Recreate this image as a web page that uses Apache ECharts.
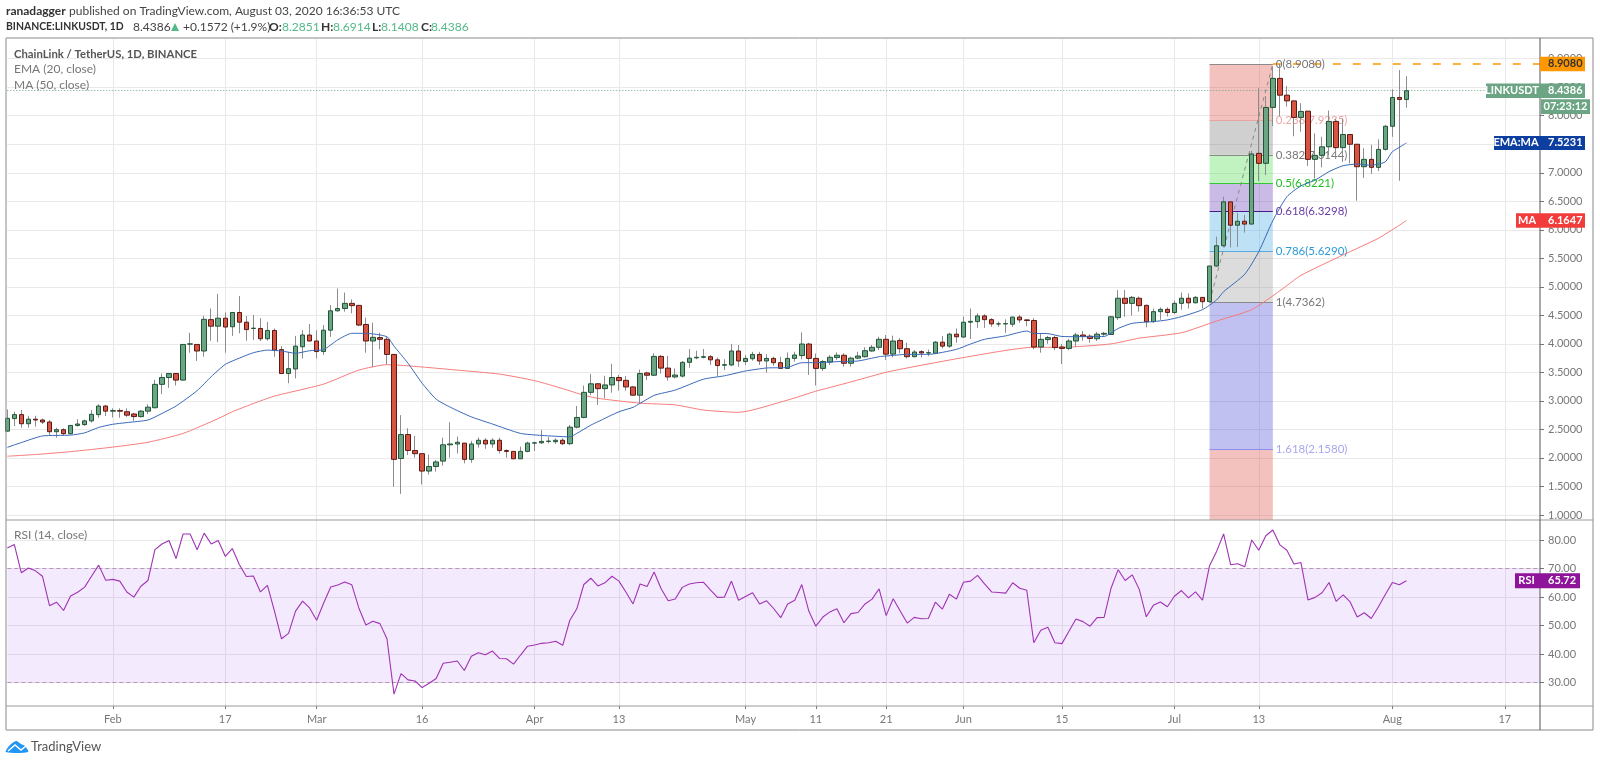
<!DOCTYPE html>
<html><head><meta charset="utf-8">
<style>html,body{margin:0;padding:0;background:#fff}#c{width:1600px;height:763px}</style>
<script src="https://cdn.jsdelivr.net/npm/echarts@6/dist/echarts.min.js"></script>
</head><body><div id="c"></div>
<script>
const opens=[2.47,2.69,2.76,2.60,2.68,2.665,2.63,2.46,2.495,2.425,
2.57,2.585,2.65,2.76,2.91,2.82,2.83,2.81,2.77,2.725,
2.82,2.88,3.29,3.41,3.48,3.365,3.995,3.99,3.875,4.425,
4.31,4.45,4.30,4.55,4.38,4.27,4.27,4.09,4.235,3.90,
3.48,3.56,3.95,4.155,4.05,3.865,4.24,4.58,4.62,4.71,
4.675,4.34,4.05,4.11,4.08,3.815,1.99,2.41,2.13,2.075,
1.77,1.85,1.945,2.23,2.245,2.26,1.975,2.245,2.31,2.245,
2.31,2.13,2.115,1.985,2.115,2.26,2.265,2.29,2.285,2.31,
2.25,2.54,2.71,3.15,3.30,3.215,3.28,3.41,3.36,3.245,
3.10,3.49,3.45,3.78,3.575,3.42,3.435,3.676,3.755,3.765,
3.775,3.72,3.625,3.63,3.875,3.69,3.74,3.815,3.70,3.745,
3.67,3.57,3.745,3.795,3.997,3.745,3.57,3.68,3.76,3.80,
3.66,3.75,3.775,3.875,3.94,4.08,3.82,4.06,3.915,3.775,
3.863,3.84,3.835,4.03,3.96,4.17,4.12,4.38,4.39,4.49,
4.425,4.35,4.35,4.345,4.47,4.42,4.41,3.945,4.075,4.11,
3.945,3.92,4.05,4.155,4.135,4.09,4.17,4.165,4.46,4.80,
4.71,4.80,4.675,4.39,4.565,4.605,4.55,4.71,4.80,4.72,
4.815,4.74,5.365,5.72,6.49,6.08,6.15,6.10,7.34,7.165,
8.145,8.655,8.36,8.26,7.97,8.08,7.235,7.305,7.455,7.90,
7.44,7.67,7.50,7.106,7.235,7.095,7.41,7.815,8.32,8.2851];
const closes=[2.695,2.76,2.60,2.68,2.665,2.63,2.46,2.495,2.425,2.57,
2.595,2.65,2.765,2.91,2.82,2.83,2.82,2.75,2.725,2.82,
2.89,3.29,3.41,3.48,3.365,3.99,4.0,3.875,4.43,4.31,
4.45,4.295,4.55,4.38,4.25,4.275,4.09,4.235,3.89,3.48,
3.565,3.96,4.155,4.05,3.865,4.24,4.58,4.62,4.71,4.67,
4.33,4.05,4.115,4.08,3.815,1.975,2.41,2.13,2.075,1.77,
1.85,1.93,2.23,2.245,2.275,1.975,2.245,2.31,2.245,2.31,
2.13,2.115,1.985,2.115,2.26,2.265,2.29,2.295,2.31,2.25,
2.54,2.71,3.15,3.30,3.215,3.28,3.41,3.355,3.245,3.10,
3.48,3.45,3.78,3.575,3.42,3.454,3.676,3.75,3.765,3.775,
3.72,3.62,3.635,3.875,3.70,3.745,3.815,3.70,3.745,3.67,
3.57,3.745,3.805,3.997,3.745,3.57,3.69,3.765,3.80,3.66,
3.75,3.787,3.88,3.94,4.08,3.82,4.05,3.915,3.775,3.857,
3.84,3.845,4.03,3.96,4.17,4.125,4.38,4.395,4.49,4.425,
4.35,4.35,4.355,4.47,4.42,4.41,3.945,4.08,4.11,3.935,
3.92,4.05,4.155,4.13,4.095,4.17,4.185,4.475,4.80,4.71,
4.815,4.67,4.39,4.565,4.605,4.55,4.71,4.80,4.72,4.815,
4.74,5.365,5.72,6.49,6.08,6.15,6.10,7.33,7.165,8.145,
8.655,8.36,8.26,7.97,8.075,7.235,7.305,7.455,7.90,7.44,
7.67,7.50,7.106,7.235,7.095,7.41,7.815,8.32,8.285,8.4386];
const highs=[2.85,2.81,2.84,2.74,2.74,2.69,2.665,2.53,2.52,2.57,
2.68,2.67,2.84,2.94,2.93,2.87,2.87,2.87,2.79,2.84,
2.94,3.37,3.48,3.48,3.48,3.99,4.195,3.99,4.49,4.62,
4.875,4.55,4.56,4.84,4.49,4.505,4.45,4.385,4.27,3.96,
3.86,4.14,4.24,4.35,4.24,4.33,4.68,4.97,4.90,4.78,
4.68,4.46,4.37,4.195,4.125,3.815,2.75,2.52,2.385,2.075,
2.06,1.965,2.355,2.625,2.375,2.26,2.30,2.36,2.345,2.345,
2.355,2.15,2.115,2.20,2.285,2.285,2.49,2.37,2.345,2.345,
2.58,2.91,3.27,3.47,3.31,3.44,3.65,3.455,3.435,3.26,
3.55,3.51,3.835,3.805,3.79,3.57,3.70,3.91,3.88,3.91,
3.805,3.76,3.73,4.0,3.98,3.805,3.86,3.86,3.82,3.775,
3.775,3.85,3.86,4.2,4.02,3.83,3.72,3.805,3.85,3.835,
3.775,3.86,3.94,3.98,4.125,4.155,4.145,4.10,4.02,3.89,
3.89,3.90,4.05,4.14,4.195,4.27,4.48,4.62,4.535,4.52,
4.45,4.39,4.43,4.475,4.505,4.43,4.45,4.185,4.14,4.14,
4.0,4.085,4.195,4.225,4.17,4.21,4.21,4.49,4.945,4.945,
4.84,4.83,4.69,4.62,4.64,4.64,4.76,4.90,4.885,4.84,
4.815,5.365,5.88,6.58,6.49,6.30,6.26,7.385,8.48,8.345,
8.86,8.908,8.52,8.26,8.22,8.08,7.69,7.63,8.09,7.95,
7.95,7.67,7.50,7.43,7.49,7.585,7.84,8.46,8.80,8.6914];
const lows=[2.46,2.56,2.53,2.53,2.55,2.595,2.40,2.355,2.40,2.41,
2.55,2.56,2.62,2.705,2.735,2.71,2.705,2.72,2.65,2.71,
2.77,2.87,3.12,3.23,3.27,3.36,3.845,3.70,3.775,4.055,
4.03,3.845,4.14,4.185,4.055,4.07,4.05,4.055,3.775,3.48,
3.31,3.395,3.745,4.04,3.745,3.805,4.125,4.565,4.565,4.535,
4.31,3.845,3.59,3.905,3.64,1.495,1.37,2.05,2.005,1.535,
1.71,1.76,1.865,2.005,2.08,1.905,1.915,2.18,2.16,2.18,
2.08,2.005,1.985,1.985,2.10,2.125,2.245,2.255,2.245,2.225,
2.225,2.52,2.695,3.10,2.93,3.045,3.145,3.18,3.18,3.10,
2.96,3.365,3.435,3.48,3.355,3.395,3.41,3.58,3.73,3.745,
3.63,3.435,3.54,3.61,3.60,3.63,3.705,3.63,3.495,3.615,
3.56,3.56,3.69,3.73,3.455,3.27,3.525,3.63,3.72,3.60,
3.60,3.73,3.76,3.86,3.89,3.715,3.765,3.835,3.745,3.765,
3.765,3.785,3.82,3.92,3.93,4.02,4.11,4.085,4.28,4.28,
4.30,4.30,4.195,4.30,4.37,4.31,3.905,3.845,4.0,3.89,
3.645,3.89,3.95,4.055,4.02,4.05,4.14,4.155,4.42,4.475,
4.495,4.565,4.29,4.37,4.42,4.48,4.52,4.60,4.62,4.71,
4.62,4.74,5.35,5.70,5.69,5.70,5.95,6.10,6.855,6.96,
7.82,7.995,8.16,7.64,7.72,7.12,6.90,7.095,7.31,7.27,
7.19,7.165,6.51,6.91,6.98,7.03,7.39,7.63,6.86,8.1408];
const rsiValues=[77.2,78.4,68.5,70.2,69.2,67.3,57,58.2,55.3,60.4,
61.7,63.5,67.4,71.2,65.9,66.2,65.6,61.8,60,63.8,
65.8,76.6,78.6,79.8,73.5,82.1,82.1,76.6,82.4,78.6,
79.8,74.3,77,71.4,67.2,67.4,61.8,64.1,55.1,45.4,
47.3,55.1,58.6,56.2,51.9,57.9,63.5,64.2,65.3,64.3,
56.2,50.2,51.5,50.7,45.4,26,33.2,31,30.6,28.3,
29.8,31.5,36.8,37.2,37.6,34.3,39.3,40.5,39.8,41.1,
38.5,38.4,36.5,39.7,42.8,43.2,43.8,44,44.5,43.1,
51.8,55.9,64.4,66.6,63.9,65,67.3,65.6,61.7,57.6,
64.6,63.7,68.8,62.9,58.7,59.3,63.4,64.6,65,65.2,
62.5,59.9,60,65.6,58.9,60.2,61.5,57.6,58.7,56,
52.8,57.6,58.9,64.4,55.1,49.8,53,54.8,55.9,51,
54.2,54.6,57.6,59.3,62.9,53.5,59.4,55.1,50.9,52.9,
52.4,52.5,58.2,55.8,61,59.3,65.2,65.6,67.6,64.6,
61.8,61.6,61.4,65,63.1,62.4,44,48.4,49.4,44,
43.7,48,52.3,51.4,49.8,52.8,52.9,63.2,69.6,65.8,
67.8,62.7,53.1,57.1,58.3,56.6,60.3,62.3,59.7,61.8,
58.9,71,76,82.1,71.3,71.7,70.6,80,76.4,81.5,
83.5,78.3,76.4,71.6,72.1,59,59.9,61.5,65.1,58.5,
60.8,58.3,53,54.5,52.5,56.5,60.9,65.1,64.3,65.72];
const emaDays=[0,2,5,9,11,13,15,17,20,22,24,27,29,31,33,35,37,39,41,43,45,47,49,51,54,55,57,59,61,63,66,69,73,76,80,81,83,84,87,89,90,92,95,99,102,105,108,111,113,115,118,121,124,125,128,131,135,137,139,142,145,146,148,150,152,156,158,160,163,165,167,170,172,173,176,178,180,182,184,186,188,190,192,194,195,196,197,198,199];
const emaValues=[2.185,2.27,2.385,2.40,2.44,2.535,2.59,2.62,2.665,2.78,2.91,3.18,3.425,3.64,3.75,3.845,3.89,3.875,3.835,3.88,3.90,4.07,4.185,4.185,4.125,3.96,3.66,3.31,3.03,2.89,2.72,2.595,2.43,2.395,2.37,2.43,2.575,2.635,2.81,2.887,2.957,3.097,3.19,3.38,3.44,3.524,3.577,3.588,3.67,3.67,3.688,3.70,3.775,3.787,3.816,3.816,3.904,3.997,4.08,4.14,4.225,4.185,4.18,4.13,4.126,4.13,4.27,4.36,4.39,4.42,4.477,4.60,4.77,4.915,5.22,5.616,6.16,6.58,6.77,6.87,7.02,7.124,7.153,7.13,7.153,7.19,7.37,7.445,7.5231];
const maDays=[0,4,9,15,20,25,30,32,36,38,40,45,50,54,57,64,70,75,79,82,84,90,95,99,104,111,115,119,124,126,136,146,150,157,161,167,172,177,181,184,190,195,198,199];
const maValues=[2.03,2.06,2.11,2.19,2.275,2.43,2.69,2.81,3.0,3.085,3.145,3.295,3.54,3.635,3.615,3.54,3.47,3.355,3.215,3.10,3.045,2.96,2.93,2.84,2.80,3.015,3.17,3.30,3.47,3.53,3.76,3.94,3.94,4.0,4.10,4.195,4.40,4.6,4.93,5.2,5.56,5.85,6.08,6.1647];
const tickDays=[15,31,44,59,75,87,105,115,125,136,150,166,178,197,213];
const tickTexts=['Feb','17','Mar','16','Apr','13','May','11','21','Jun','15','Jul','13','Aug','17'];
const priceTicks=[1,1.5,2,2.5,3,3.5,4,4.5,5,5.5,6,6.5,7,7.5,8,8.5,9];
const rsiTicks=[30,40,50,60,70,80];
const fibLabels=['0(8.9080)','0.236(7.9235)','0.382(7.3144)','0.5(6.8221)','0.618(6.3298)','0.786(5.6290)','1(4.7362)','1.618(2.1580)'];
const fibPrices=[8.908,7.9235,7.3144,6.8221,6.3298,5.629,4.7362,2.158];
const fibLineColors=['#8a8a8a','#e8a3a3','#8a8a8a','#35c635','#4a1a8c','#5aa9dd','#8a8a8a','#8f8ff0'];
const fibTextColors=['#777','#eda5a5','#777','#20c020','#6a3ca8','#2a9ad8','#777','#a8a8ee'];
const fibFills=['rgba(220,80,70,.35)','rgba(120,120,120,.35)','rgba(76,220,76,.35)','rgba(103,58,183,.35)','rgba(70,170,225,.35)','rgba(130,130,130,.28)','rgba(75,75,215,.35)','rgba(220,80,70,.35)'];
const fibStartDay=171, fibEndDay=180;
const lastPrice=8.4386, peakPrice=8.908, emaLast=7.5231, maLast=6.1647, rsiLast=65.72;
const dayCount=219, priceMin=0.912, priceMax=9.345, rsiMin=21.85, rsiMax=87;

const FONT='Lato';
const categories=Array.from({length:dayCount},(_,i)=>new Date(Date.UTC(2020,0,17+i)).toISOString().slice(0,10));
const isTick=i=>tickDays.includes(i);
const gridColor='#e9e9e9';
const gridL=7.3, gridW=1532.7;
const chart=echarts.init(document.getElementById('c'),null,{renderer:'canvas'});
const xBase=(gi,show)=>({type:'category',gridIndex:gi,data:categories,boundaryGap:false,
  axisLine:{show:false},
  axisTick:{show:show,interval:i=>isTick(i),length:3,lineStyle:{color:'#777'}},
  axisLabel:{show:show,interval:i=>isTick(i),margin:8,color:'#777',fontFamily:FONT,fontSize:11,
    hideOverlap:false,formatter:(v,i)=>{const k=tickDays.indexOf(i);return k<0?'':tickTexts[k];}},
  splitLine:{show:true,interval:i=>isTick(i),lineStyle:{color:gridColor,width:1}}});
const yBase=(gi,min,max,ticks,fmt)=>({type:'value',gridIndex:gi,position:'right',min,max,scale:true,
  axisLine:{show:false},
  axisTick:{show:true,length:4,lineStyle:{color:'#777'},customValues:ticks},
  axisLabel:{margin:8,color:'#777',fontFamily:FONT,fontSize:11,customValues:ticks,formatter:v=>v.toFixed(fmt)},
  splitLine:{show:true,lineStyle:{color:gridColor,width:1}}});
const fibZones=fibFills.map((c,i)=>[
  {coord:[fibStartDay,fibPrices[i]],itemStyle:{color:c}},
  {coord:[fibEndDay,i+1<fibPrices.length?fibPrices[i+1]:priceMin]}]);
const fibLines=fibPrices.map((p,i)=>[
  {coord:[fibStartDay,p],lineStyle:{color:fibLineColors[i],width:1.2,type:'solid'},
   label:{show:true,position:'end',distance:3,formatter:fibLabels[i],color:fibTextColors[i],fontFamily:FONT,fontSize:11.5}},
  {coord:[fibEndDay,p]}]);
const option={
  animation:false,backgroundColor:'#fff',
  grid:[{left:gridL,top:39,width:gridW,height:481},{left:gridL,top:520,width:gridW,height:186}],
  xAxis:[xBase(0,false),xBase(1,true)],
  yAxis:[yBase(0,priceMin,priceMax,priceTicks,4),yBase(1,rsiMin,rsiMax,rsiTicks,2)],
  series:[
   {name:'MA',type:'line',xAxisIndex:0,yAxisIndex:0,z:3,symbol:'none',smooth:0.2,data:maDays.map((d,i)=>[d,maValues[i]]),
    lineStyle:{color:'#f77c7c',width:1},
    markArea:{silent:true,z:1,data:fibZones},
    markLine:{silent:true,z:1,symbol:'none',animation:false,data:[...fibLines,
      [{coord:[fibStartDay,fibPrices[6]],lineStyle:{color:'#888',width:1,type:[4,4]},label:{show:false}},{coord:[fibEndDay,peakPrice]}],
      [{coord:[fibEndDay,peakPrice],lineStyle:{color:'#ff9800',width:1.5,type:[8,12]},label:{show:false}},{coord:[dayCount-1,peakPrice]}],
      [{coord:[0,lastPrice],lineStyle:{color:'#6ba583',width:1,type:[1,2]},label:{show:false}},{coord:[dayCount-1,lastPrice]}]
    ]}},
   {name:'wicks',type:'candlestick',xAxisIndex:0,yAxisIndex:0,z:4,barWidth:1,
    data:opens.map((o,i)=>[o,closes[i],lows[i],highs[i]]),
    itemStyle:{color:'#8c8c8e',color0:'#8c8c8e',borderColor:'#8c8c8e',borderColor0:'#8c8c8e',borderWidth:1}},
   {name:'bodies',type:'candlestick',xAxisIndex:0,yAxisIndex:0,z:5,barWidth:5,
    data:opens.map((o,i)=>[o,closes[i],Math.min(o,closes[i]),Math.max(o,closes[i])]),
    itemStyle:{color:'#6ba583',color0:'#d75442',borderColor:'#225437',borderColor0:'#5b1a13',borderWidth:1}},
   {name:'EMA',type:'line',xAxisIndex:0,yAxisIndex:0,z:6,symbol:'none',smooth:0.2,data:emaDays.map((d,i)=>[d,emaValues[i]]),
    lineStyle:{color:'#3a68b8',width:1}},
   {name:'RSI',type:'line',xAxisIndex:1,yAxisIndex:1,z:3,symbol:'none',data:rsiValues.map((v,i)=>[i,v]),
    lineStyle:{color:'#a033b4',width:1.1},
    markArea:{silent:true,z:1,itemStyle:{color:'rgba(150,50,250,.1)'},data:[[{yAxis:70},{yAxis:30}]]},
    markLine:{silent:true,z:2,symbol:'none',label:{show:false},lineStyle:{color:'#b597bd',width:1,type:[4,3]},data:[{yAxis:70},{yAxis:30}]}}
  ]
};
chart.setOption(option);

const T=(x,y,text,o={})=>({type:'text',x,y,z:50,silent:true,style:Object.assign({text,fontFamily:FONT,fontSize:12,fill:'#444',verticalAlign:'middle'},o)});
const L=(x1,y1,x2,y2,c,w)=>({type:'line',z:40,silent:true,shape:{x1,y1,x2,y2},style:{stroke:c,lineWidth:w||1}});
const py=v=>chart.convertToPixel({yAxisIndex:0},v);
const ry=v=>chart.convertToPixel({yAxisIndex:1},v);
const teal='#53b987';
const tag=(x0,x1,yc,h,fill,name,val,tc)=>{
  const out=[{type:'rect',z:45,silent:true,shape:{x:x0,y:yc-h/2,width:x1-x0,height:h},style:{fill}}];
  if(name) out.push(T((x0+1538)/2,yc,name,{fill:tc,fontSize:11,fontWeight:'bold',align:'center'}));
  out.push(L(1540,yc,1544,yc,tc,1));
  out.push(T(1548,yc,val,{fill:tc,fontSize:11,fontWeight:'bold'}));
  return out;};
const els=[
  T(6,11,'ranadagger',{fontWeight:'bold',fontSize:12,fill:'#333'}),
  T(69,11,'published on TradingView.com, August 03, 2020 16:36:53 UTC',{fontSize:12,fill:'#444'}),
  T(6,27,'BINANCE:LINKUSDT, 1D',{fontWeight:'bold',fontSize:10.4,fill:'#333'}),
  T(133,27,'8.4386',{fill:'#444'}),
  {type:'polygon',z:50,silent:true,shape:{points:[[171,31],[179,31],[175,23]]},style:{fill:teal}},
  T(183,27,'+0.1572 (+1.9%)',{fill:'#444'}),
  T(269,27,'O:',{fontWeight:'bold',fill:'#333'}),T(282,27,'8.2851',{fill:teal}),
  T(321,27,'H:',{fontWeight:'bold',fill:'#333'}),T(333,27,'8.6914',{fill:teal}),
  T(372,27,'L:',{fontWeight:'bold',fill:'#333'}),T(381,27,'8.1408',{fill:teal}),
  T(421,27,'C:',{fontWeight:'bold',fill:'#333'}),T(431,27,'8.4386',{fill:teal}),
  T(14,54,'ChainLink / TetherUS, 1D, BINANCE',{fontWeight:'bold',fontSize:11.3,fill:'#555'}),
  T(14,69,'EMA (20, close)',{fill:'#777'}),
  T(14,85,'MA (50, close)',{fill:'#777'}),
  T(14,535,'RSI (14, close)',{fill:'#777'}),
  {type:'rect',z:40,silent:true,shape:{x:6,y:38,width:1587,height:692},style:{fill:'none',stroke:'#8a8a8a',lineWidth:1}},
  L(6,520,1593,520,'#9a9a9a'),L(6,706,1593,706,'#9a9a9a'),
  ...tag(1540,1585,py(peakPrice),14.5,'#ff9800','',peakPrice.toFixed(4),'#333'),
  ...tag(1486,1585,py(lastPrice),14.5,'#6ba583','LINKUSDT',lastPrice.toFixed(4),'#fff'),
  {type:'rect',z:45,silent:true,shape:{x:1541,y:99.3,width:49,height:14.7},style:{fill:'#6ba583'}},
  T(1565.5,106.7,'07:23:12',{fill:'#fff',fontSize:11,fontWeight:'bold',align:'center'}),
  ...tag(1494,1585,py(emaLast),14,'#0d3fa0','EMA:MA',emaLast.toFixed(4),'#fff'),
  ...tag(1516,1585,py(maLast),14.5,'#f23c3c','MA',maLast.toFixed(4),'#fff'),
  ...tag(1515,1580,ry(rsiLast),15,'#8e1599','RSI',rsiLast.toFixed(2),'#fff'),
  L(1540,38,1540,730,'#555',1),
  {type:'polygon',z:50,silent:true,shape:{smooth:0.3,points:[[6,752],[9,746],[16,741],[21,744],[25,746],[28,752]]},style:{fill:'#2196f3'}},
  {type:'polyline',z:51,silent:true,shape:{points:[[8,751],[15,745],[21,750],[26,746]]},style:{stroke:'#fff',fill:'none',lineWidth:1.5}},
  T(31,746.5,'TradingView',{fontSize:13,fill:'#555'})
];
chart.setOption({graphic:{elements:els}});
</script></body></html>
